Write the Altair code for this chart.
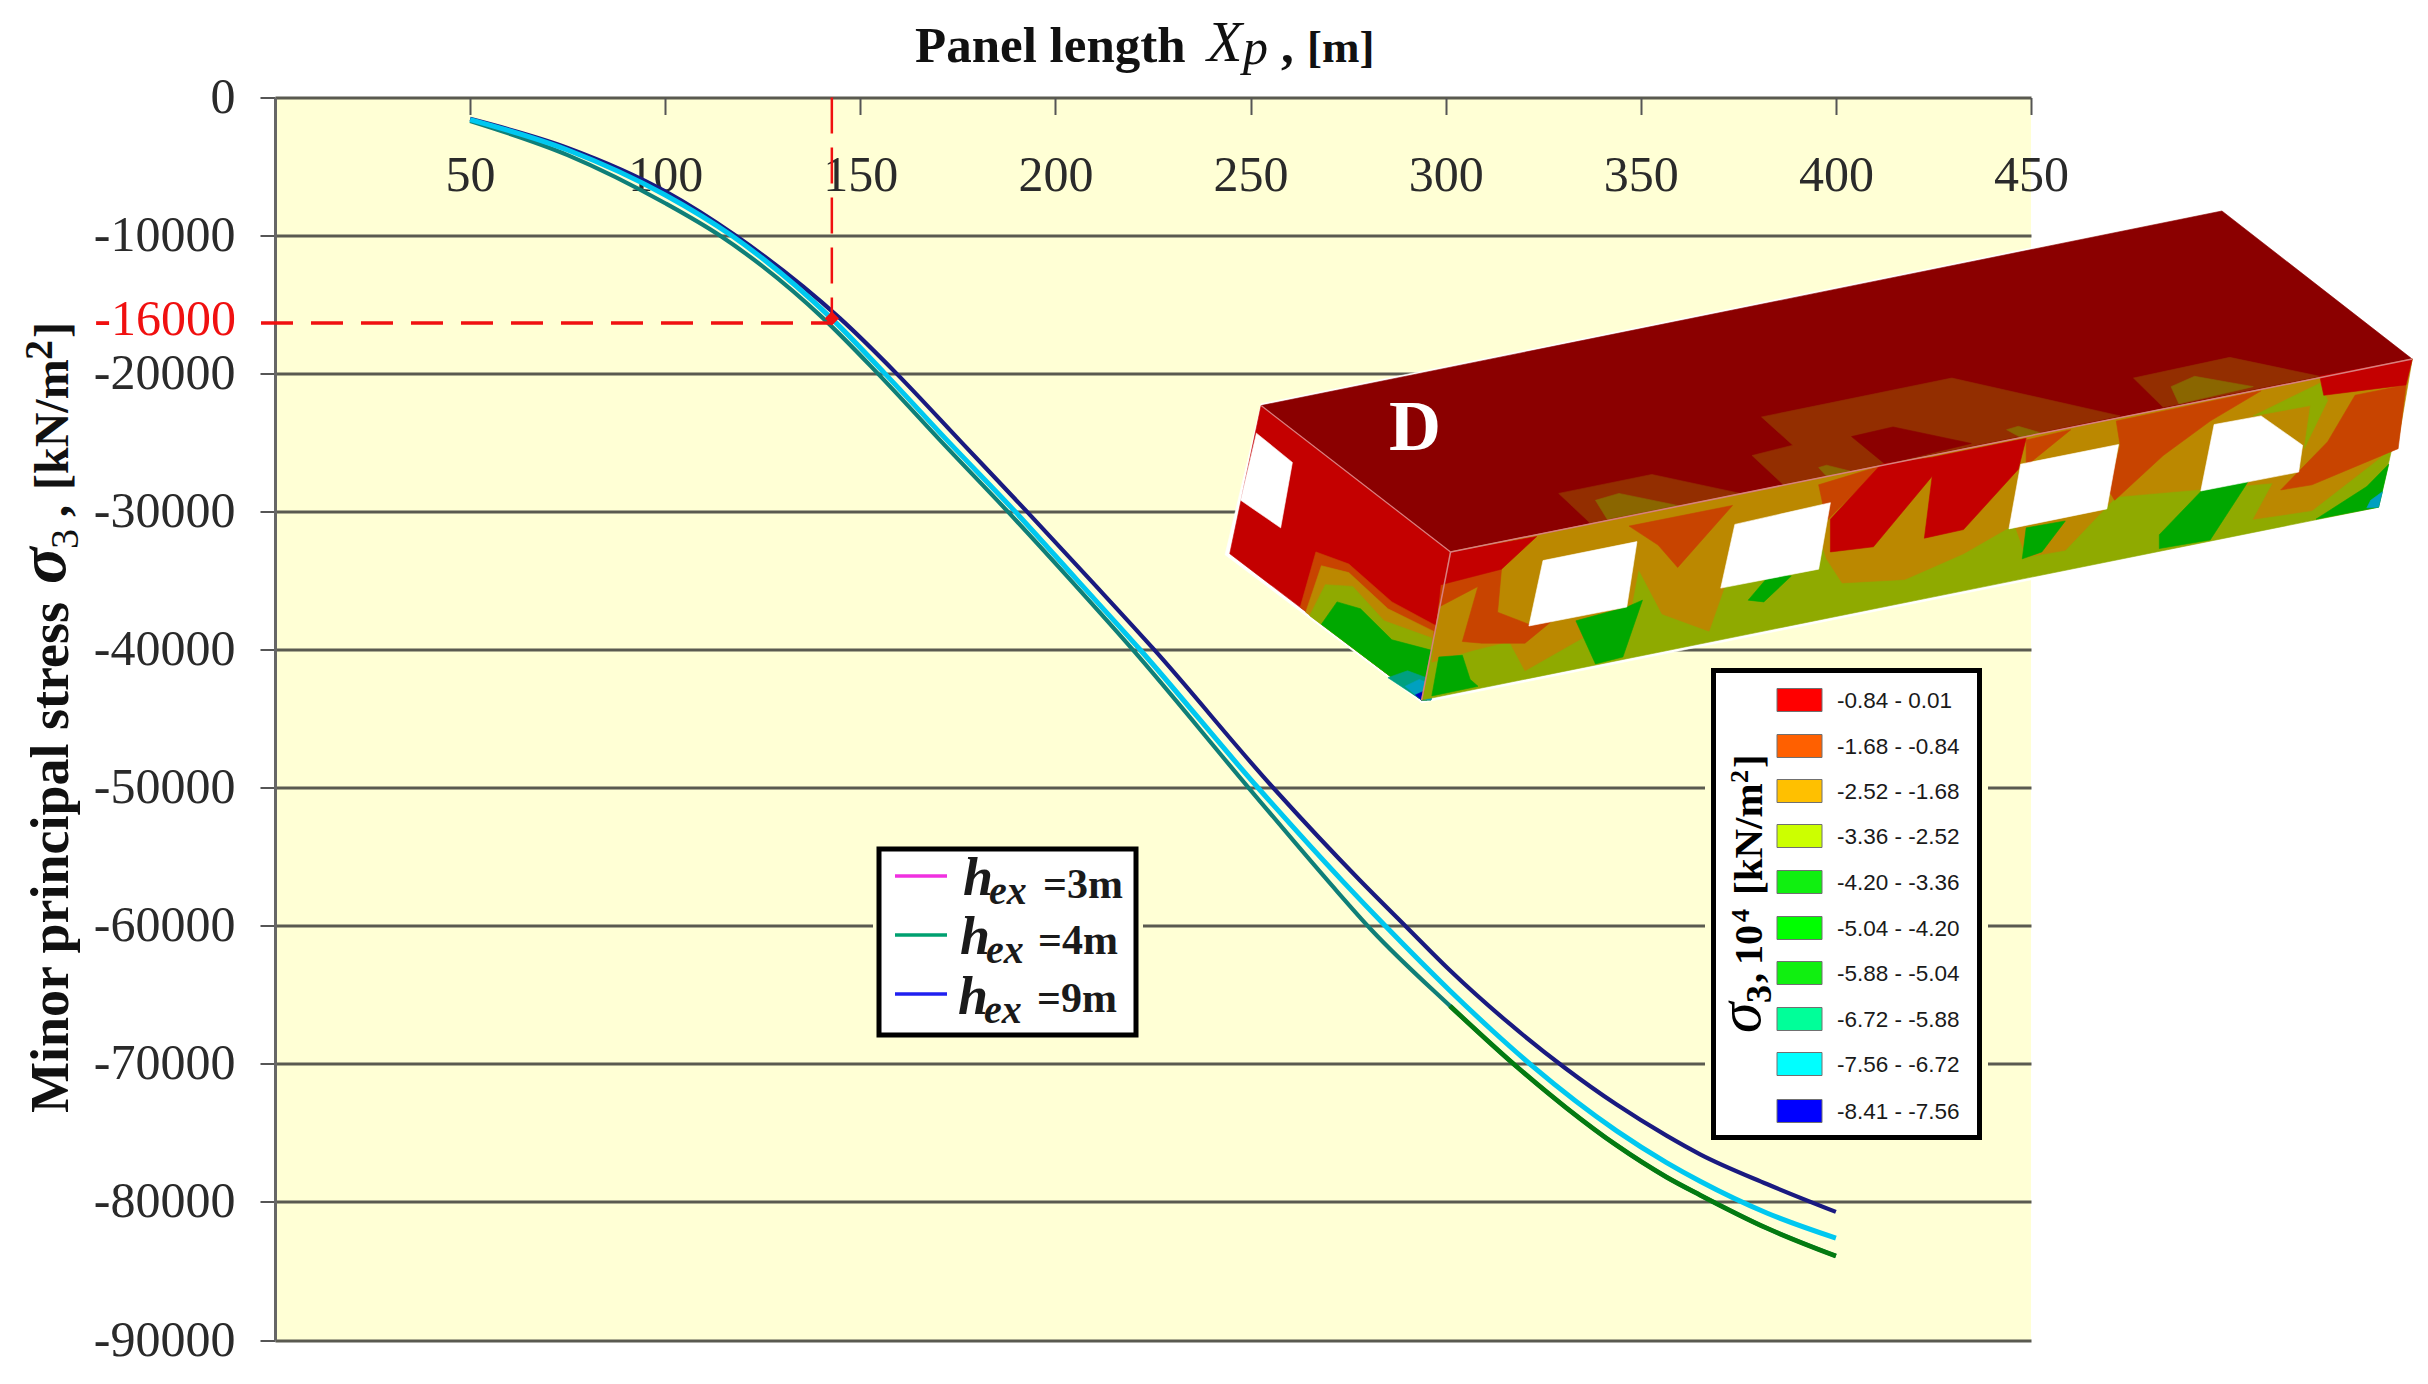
import altair as alt
import pandas as pd

# ---------- chart data ----------
X_TICKS = [50, 100, 150, 200, 250, 300, 350, 400, 450]
Y_TICKS = [0, -10000, -20000, -30000, -40000, -50000, -60000, -70000, -80000, -90000]

H9_X = [50, 75, 100, 118, 144.8, 159.3, 176, 192.7, 209.1, 225.3, 255.8, 278, 290, 301, 316, 330.6, 343.8, 356.6, 365.2, 382.3, 400]
H9_Y = [-1550, -3650, -6800, -10000, -16000, -20000, -25000, -30000, -35000, -40000, -50000, -56700, -60100, -63200, -67000, -70300, -72950, -75200, -76550, -78700, -80720]
H3_X = [50, 75, 100, 117, 142.6, 156.3, 172.8, 189.7, 205.7, 221.7, 251.9, 273.7, 284.5, 301.1, 312, 322.4, 343.8, 356.6, 365.2, 382.3, 400]
H3_Y = [-1600, -3800, -7060, -10000, -16000, -20000, -25000, -30000, -35000, -40000, -50000, -56800, -60000, -64700, -67600, -70200, -74850, -77150, -78500, -80800, -82620]
H4_X = [50, 75, 100, 114, 140.5, 154.5, 171, 187.8, 204, 219.8, 249.5, 270, 281, 301.1, 318.6, 331, 343.8, 356.6, 365.2, 382.3, 400]
H4_Y = [-1700, -4170, -7660, -10000, -16000, -20000, -25000, -30000, -35000, -40000, -50000, -56800, -60300, -65800, -70300, -73200, -75900, -78200, -79500, -81900, -83920]

MARK_X = [142.7]
MARK_Y = [-16000]

CONTOUR_LABELS = ["-0.84 - 0.01", "-1.68 - -0.84", "-2.52 - -1.68", "-3.36 - -2.52", "-4.20 - -3.36",
                  "-5.04 - -4.20", "-5.88 - -5.04", "-6.72 - -5.88", "-7.56 - -6.72", "-8.41 - -7.56"]
CONTOUR_COLORS = ["#FF0000", "#FF6000", "#FFC000", "#CCFF00", "#10F010",
                  "#00FF00", "#10F010", "#00FF99", "#00FFFF", "#0000FF"]

# ---------- inset block: contour patches (traced outlines, colour, vertices) ----------
DARK, BROWN, OLIVE_T = "#8B0000", "#932E00", "#8A6600"
RED, DORANGE, ORANGE, OLIVE, GREEN = "#C40000", "#C84400", "#BB8800", "#8FAA00", "#00A800"
BLOCK = [
    ("#FFFFFF", [(78, 650), (1305, 85), (1553, 520), (1510, 955), (283, 1518), (32, 1088)]),
    (DARK, [(78, 655), (1305, 90), (1548, 520), (320, 1080)]),
    (BROWN, [(458, 910), (577, 855), (690, 910), (500, 1000)]),
    (OLIVE_T, [(505, 930), (535, 910), (610, 945), (520, 985)]),
    (BROWN, [(717, 688), (960, 575), (1175, 685), (745, 885), (705, 800), (757, 770)]),
    (DARK, [(832, 745), (885, 717), (985, 765), (875, 825)]),
    (OLIVE_T, [(790, 835), (800, 828), (830, 845), (800, 860)]),
    (OLIVE_T, [(1030, 725), (1045, 715), (1075, 735), (1050, 750)]),
    (BROWN, [(1192, 575), (1315, 515), (1430, 570), (1230, 660)]),
    (OLIVE_T, [(1240, 600), (1270, 570), (1345, 600), (1250, 650)]),
    # end face
    (RED, [(78, 655), (320, 1080), (283, 1510), (38, 1085)]),
    ("#FFFFFF", [(72, 735), (118, 820), (103, 1010), (52, 930)]),
    (DORANGE, [(128, 1240), (148, 1080), (190, 1115), (245, 1225), (302, 1295), (290, 1510), (283, 1510)]),
    (ORANGE, [(135, 1255), (155, 1120), (190, 1140), (240, 1245), (298, 1310), (295, 1510), (283, 1510)]),
    (OLIVE, [(140, 1265), (160, 1175), (195, 1180), (235, 1280), (296, 1330), (290, 1510), (283, 1510)]),
    (GREEN, [(155, 1290), (175, 1225), (205, 1245), (245, 1335), (295, 1365), (290, 1510), (283, 1510)]),
    ("#00A080", [(240, 1445), (265, 1425), (295, 1450), (295, 1510), (283, 1510)]),
    ("#00A0C0", [(262, 1470), (280, 1450), (300, 1470), (295, 1510), (283, 1510)]),
    ("#0000C0", [(275, 1495), (285, 1485), (296, 1497), (283, 1510)]),
    # front face
    (OLIVE, [(320, 1080), (1548, 520), (1505, 950), (283, 1510)]),
    (ORANGE, [(320, 1080), (1548, 520), (1530, 760), (1505, 810), (1420, 960), (1345, 985), (1370, 880), (1170, 920),
              (1105, 1075), (1055, 1095), (1040, 1000), (975, 1085), (900, 1160), (820, 1170), (800, 1100), (790, 1030),
              (670, 1180), (650, 1310), (590, 1260), (560, 1130), (550, 1250), (415, 1425), (395, 1340), (350, 1365),
              (320, 1385), (296, 1400), (305, 1240)]),
    (DORANGE, [(308, 1175), (385, 1130), (380, 1255), (420, 1290), (455, 1270), (415, 1345), (360, 1345), (335, 1340), (355, 1180), (305, 1240)]),
    (DORANGE, [(548, 1005), (680, 945), (610, 1125), (585, 1060)]),
    (DORANGE, [(790, 885), (870, 830), (800, 990)]),
    (DORANGE, [(1055, 755), (1112, 725), (1055, 830)]),
    (DORANGE, [(1170, 700), (1355, 612), (1290, 700), (1230, 800), (1168, 930), (1160, 900), (1175, 770)]),
    (DORANGE, [(1380, 900), (1440, 760), (1475, 625), (1540, 595), (1530, 780), (1420, 885)]),
    (OLIVE, [(1345, 685), (1430, 590), (1440, 640), (1410, 780), (1418, 655)]),
    (RED, [(320, 1080), (430, 1035), (385, 1130), (308, 1175)]),
    (RED, [(870, 825), (935, 805), (1055, 750), (1045, 840), (975, 1015), (925, 1040), (935, 860), (860, 1065), (805, 1080), (805, 985)]),
    (RED, [(1430, 570), (1548, 520), (1540, 595), (1435, 625)]),
    (GREEN, [(480, 1280), (545, 1240), (565, 1220), (540, 1385), (505, 1405)]),
    (GREEN, [(730, 1140), (755, 1150), (720, 1225), (700, 1220)]),
    (GREEN, [(1055, 1010), (1105, 990), (1075, 1080), (1050, 1100)]),
    (GREEN, [(1280, 900), (1340, 870), (1290, 1045), (1225, 1070), (1225, 1030)]),
    (GREEN, [(1518, 825), (1505, 950), (1425, 985), (1490, 890)]),
    (GREEN, [(305, 1385), (335, 1380), (345, 1450), (355, 1470), (296, 1498)]),
    ("#00A0C0", [(1495, 930), (1510, 905), (1505, 950), (1490, 952)]),
    ("#FFFFFF", [(438, 1105), (558, 1050), (545, 1240), (420, 1295)]),
    ("#FFFFFF", [(683, 1000), (805, 937), (790, 1130), (665, 1185)]),
    ("#FFFFFF", [(1048, 825), (1173, 768), (1158, 955), (1033, 1013)]),
    ("#FFFFFF", [(1295, 710), (1355, 685), (1408, 770), (1403, 848), (1278, 903)]),
]

# ---------- picture -> data mapping ----------
PX0, PX1, PY0, PY1 = 275, 2031, 97.5, 1340
W, H = PX1 - PX0, PY1 - PY0


def dx(px):
    return (px - PX0) / W * 450


def dy(py):
    return -(py - PY0) / H * 90000


SERIF = "Liberation Serif"
SANS = "Liberation Sans"
sx = alt.Scale(domain=[0, 450], range=[0, W], nice=False, zero=False)
sy = alt.Scale(domain=[-90000, 0], range=[H, 0], nice=False, zero=False)
X_AXIS = alt.Axis(
    orient="bottom", offset=-H, values=X_TICKS, grid=False, domain=False, tickSize=17, tickWidth=2,
    tickColor="#555555", labelFont=SERIF, labelFontSize=50, labelColor="#2A2A2A", labelPadding=36,
    labelFlush=False, labelOverlap=False, labelBound=False, title=None, zindex=0)
Y_AXIS = alt.Axis(
    values=Y_TICKS, grid=True, gridColor="#5A5A50", gridWidth=3, domain=True, domainColor="#666666",
    domainWidth=3, tickSize=15, tickWidth=2, tickColor="#555555", labelFont=SERIF, labelFontSize=50,
    labelColor="#2A2A2A", labelPadding=25, labelOverlap=False, labelBound=False, labelFlush=False,
    labelExpr="datum.value == 0 ? '0' : '-' + format(-datum.value, 'd')", title=None, zindex=0)
AX = alt.X("x:Q", scale=sx, axis=X_AXIS, sort=None, title=None)
AY = alt.Y("y:Q", scale=sy, axis=Y_AXIS, sort=None, title=None)


def text(px, py, s, size, color="#000000", font=SERIF, weight="normal", style="normal", angle=0, align="left"):
    df = pd.DataFrame({"x": [dx(px)], "y": [dy(py)], "t": [s]})
    return alt.Chart(df).mark_text(font=font, fontSize=size, fontWeight=weight, fontStyle=style, color=color,
                                   angle=angle, align=align, baseline="alphabetic").encode(x=AX, y=AY, text="t:N")


def box(x0, y0, x1, y1, fill, stroke=None, sw=0):
    df = pd.DataFrame({"x": [dx(x0)], "x2": [dx(x1)], "y": [dy(y0)], "y2": [dy(y1)]})
    kw = {"stroke": stroke, "strokeWidth": sw} if stroke else {}
    return alt.Chart(df).mark_rect(fill=fill, **kw).encode(x=AX, x2="x2:Q", y=AY, y2="y2:Q")


def segment(x0, y0, x1, y1, color, sw, dash=None):
    df = pd.DataFrame({"x": [dx(x0), dx(x1)], "y": [dy(y0), dy(y1)], "i": [0, 1]})
    kw = {"strokeDash": dash} if dash else {}
    return alt.Chart(df).mark_line(color=color, strokeWidth=sw, **kw).encode(x=AX, y=AY, order="i:Q")


def curve(xs, ys, color, sw=4.2):
    df = pd.DataFrame({"x": xs, "y": ys})
    return alt.Chart(df).mark_line(color=color, strokeWidth=sw, interpolate="monotone").encode(x=AX, y=AY, order="x:Q")


def poly(color, pts):
    df = pd.DataFrame({"x": [dx(1200 + a * 0.7831) for a, b in pts],
                       "y": [dy(180 + b * 0.3444) for a, b in pts],
                       "i": list(range(len(pts)))})
    return alt.Chart(df).mark_line(fill=color, stroke=color, strokeWidth=0.6, interpolate="linear-closed").encode(x=AX, y=AY, order="i:Q")


layers = []

# curves
tail = [(a, b) for a, b in zip(H4_X, H4_Y) if a >= 301]
layers += [
    curve(H4_X, H4_Y, "#0F7F78"),
    curve([a for a, b in tail], [b for a, b in tail], "#047A10", 4.8),
    curve(H9_X, H9_Y, "#1A1A80"),
    curve(H3_X, H3_Y, "#00C8F0", 5),
]

# read-off guide
layers += [
    segment(261, 323, PX0 + MARK_X[0] * W / 450, 323, "#F01010", 3.5, [32, 18]),
    segment(PX0 + MARK_X[0] * W / 450, 97.5, PX0 + MARK_X[0] * W / 450, 323, "#F01010", 2.5, [36, 14]),
    alt.Chart(pd.DataFrame({"x": MARK_X, "y": MARK_Y})).mark_point(shape="diamond", filled=True, color="#F01010", size=200, opacity=1).encode(x=AX, y=AY),
    text(236, 335, "-16000", 50, color="#F01010", align="right"),
]

# inset block
layers += [poly(c, p) for c, p in BLOCK]
layers += [
    segment(1200 + 320 * .7831, 180 + 1080 * .3444, 1200 + 1548 * .7831, 180 + 520 * .3444, "#D88080", 1.5),
    segment(1200 + 320 * .7831, 180 + 1080 * .3444, 1200 + 283 * .7831, 180 + 1510 * .3444, "#D88080", 1.5),
    segment(1200 + 78 * .7831, 180 + 655 * .3444, 1200 + 320 * .7831, 180 + 1080 * .3444, "#D88080", 1.2),
    text(1415, 450, "D", 72, color="#FFFFFF", weight="bold", align="center"),
]

# series legend
layers += [
    box(873, 842, 1143, 1042, "#FFFFD5"),
    box(879, 849, 1136, 1035, "#FFFFFF", "#000000", 5),
    segment(895, 876, 947, 876, "#F030E0", 3.5),
    segment(895, 935, 947, 935, "#00A070", 3.5),
    segment(895, 994, 947, 994, "#2020F0", 3.5),
]
for hx, base, exb, eqx, eqb, s in [(963, 895, 904, 1043, 898, "=3m"), (960, 954, 963, 1038, 954, "=4m"), (958, 1014, 1023, 1037, 1012, "=9m")]:
    layers += [
        text(hx, base, "h", 54, weight="bold", style="italic", color="#1A1A1A"),
        text(hx + 26, exb, "ex", 40, weight="bold", style="italic", color="#1A1A1A"),
        text(eqx, eqb, s, 42, weight="bold", color="#1A1A1A"),
    ]

# contour legend
SWATCH_Y = [700, 746, 791, 836, 882, 928, 973, 1019, 1064, 1111]
layers += [
    box(1705, 663, 1988, 1146, "#FFFFD5"),
    box(1713.5, 670.5, 1979.5, 1137.5, "#FFFFFF", "#000000", 5),
]
for yy, c, s in zip(SWATCH_Y, CONTOUR_COLORS, CONTOUR_LABELS):
    layers += [
        box(1777, yy - 11.5, 1822, yy + 11.5, c, "#707070", 1),
        text(1837, yy + 8, s, 22.5, font=SANS, color="#1A1A1A"),
    ]
layers += [
    text(1760, 1033, "σ", 62, style="italic", angle=270),
    text(1771, 1003, "3", 36, weight="bold", angle=270),
    text(1762, 983, ",", 40, weight="bold", angle=270),
    text(1762, 965, "10", 40, weight="bold", angle=270),
    text(1749, 922, "4", 26, weight="bold", angle=270),
    text(1762, 895, "[kN/m", 41, weight="bold", angle=270),
    text(1748, 783, "2", 26, weight="bold", angle=270),
    text(1762, 768, "]", 41, weight="bold", angle=270),
]

# axis titles
layers += [
    text(915, 62, "Panel length", 51, weight="bold", color="#111111"),
    text(1207, 61, "X", 58, style="italic", color="#111111"),
    text(1243, 64, "p", 50, style="italic", color="#111111"),
    text(1281, 62, ",", 51, weight="bold", color="#111111"),
    text(1307, 62, "[m]", 45, weight="bold", color="#111111"),
    text(68, 1113, "Minor principal stress", 54, weight="bold", color="#111111", angle=270),
    text(65, 584, "σ", 68, style="italic", weight="bold", color="#111111", angle=270),
    text(78, 549, "3", 40, color="#111111", angle=270),
    text(68, 517, ",", 48, weight="bold", color="#111111", angle=270),
    text(68, 490, "[kN/m", 48, weight="bold", color="#111111", angle=270),
    text(52, 360, "2", 40, weight="bold", color="#111111", angle=270),
    text(68, 338, "]", 48, weight="bold", color="#111111", angle=270),
]

chart = alt.layer(*layers).properties(
    width=W, height=H,
    autosize=alt.AutoSizeParams(type="none"),
    padding={"left": PX0 - 8, "top": PY0 - 8, "right": 2420 - PX1, "bottom": 1376 - PY1},
    background="#FFFFFF",
).configure_view(fill="#FFFFD5", stroke=None)

chart.save("out.html", embed_options={"renderer": "svg", "actions": False})
